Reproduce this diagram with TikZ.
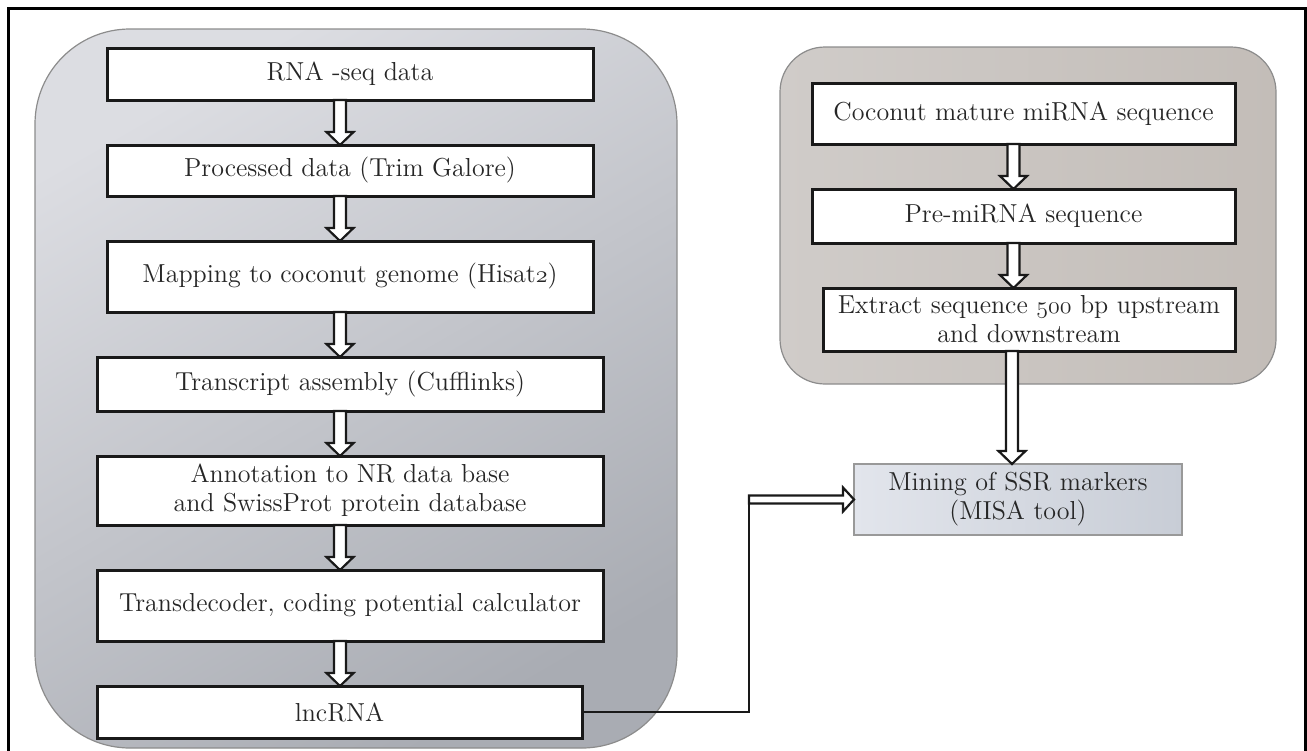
\documentclass[tikz,border=0pt]{standalone}
\usetikzlibrary{positioning, calc}
\definecolor{lefttop}{HTML}{DCDDE2}
\definecolor{leftbot}{HTML}{A9ACB3}
\definecolor{rightl}{HTML}{D0CCC9}
\definecolor{rightm}{HTML}{DFDCDA}
\definecolor{rightr}{HTML}{C3BDB8}
\definecolor{ssrl}{HTML}{E2E5EC}
\definecolor{ssrr}{HTML}{C8CDD6}
\newcommand{\osf}[1]{{\usefont{OML}{cmm}{m}{it}#1}}
\tikzstyle{stepbox} = [rectangle, draw=black!90, line width=1.5pt, outer sep=0pt, fill=white, align=center, inner sep=2pt, text=black!85, font=\fontsize{13}{14.5}\selectfont]
\tikzstyle{ssrbox} = [rectangle, draw=black!40, line width=0.7pt, outer sep=0pt, left color=ssrl, right color=ssrr, align=center, inner sep=2pt, text=black!85, font=\fontsize{13}{14.5}\selectfont]
\tikzstyle{panel} = [draw=black!45, line width=0.6pt]
\tikzstyle{blockarrow} = [draw=black!90, line width=1.1pt, fill=white, to path={let \p1=(\tikztostart), \p2=(\tikztotarget) in (\x1-3pt,\y1) -- (\x1-3pt,\y2+6.5pt) -- (\x1-6.75pt,\y2+6.5pt) -- (\x1,\y2) -- (\x1+6.75pt,\y2+6.5pt) -- (\x1+3pt,\y2+6.5pt) -- (\x1+3pt,\y1) -- cycle}]
\tikzstyle{hollowright} = [draw=black!90, line width=1.1pt, fill=white, to path={let \p1=(\tikztostart), \p2=(\tikztotarget) in (\x1,\y1+2pt) -- (\x2-5.5pt,\y1+2pt) -- (\x2-5.5pt,\y1+6pt) -- (\x2,\y1) -- (\x2-5.5pt,\y1-6pt) -- (\x2-5.5pt,\y1-2pt) -- (\x1,\y1-2pt) -- cycle}]
\tikzstyle{link} = [draw=black!90, line width=1.3pt]
\begin{document}
\begin{tikzpicture}[node distance=22.5pt]

    \useasboundingbox (0,0) rectangle (653.5pt,-375pt);
    \draw [line width=1.5pt] (4pt,-4pt) rectangle (652.5pt,-385pt);

    % panels
    \shade [panel, rounded corners=47.5pt, top color=lefttop, bottom color=leftbot, shading angle=30] (17.5pt,-14.5pt) rectangle (338.5pt,-374pt);
    \shade [panel, rounded corners=22.5pt, left color=rightl, middle color=rightm, right color=rightr] (390pt,-23.5pt) rectangle (638pt,-192pt);

    % lncRNA pipeline
    \node (rnaseq) [stepbox, minimum width=243pt, minimum height=26pt] at (175pt,-37pt) {RNA -seq data};
    \node (trimgal) [stepbox, minimum width=243pt, minimum height=25.5pt, below=of rnaseq] {Processed data (Trim Galore)};
    \node (hisat) [stepbox, minimum width=243pt, minimum height=35.5pt, below=of trimgal] {Mapping to coconut genome (Hisat\osf{2})};
    \node (cufflinks) [stepbox, minimum width=253pt, minimum height=27pt, below=of hisat] {Transcript assembly (Cufflinks)};
    \node (annot) [stepbox, minimum width=253pt, minimum height=34.5pt, below=of cufflinks] {Annotation to NR data base\\and SwissProt protein database};
    \node (transdec) [stepbox, minimum width=253pt, minimum height=35.5pt, below=of annot] {Transdecoder, coding potential calculator};
    \node (lncrna) [stepbox, minimum width=242.5pt, minimum height=26pt, below=of transdec.south west, anchor=north west] {lncRNA};

    % miRNA pipeline
    \node (coconut) [stepbox, minimum width=211.5pt, minimum height=30.5pt] at (511.75pt,-56.75pt) {Coconut mature miRNA sequence};
    \node (premirna) [stepbox, minimum width=211.5pt, minimum height=27pt, below=of coconut] {Pre-miRNA sequence};
    \node (extract) [stepbox, minimum width=206pt, minimum height=31.5pt, below=of premirna.south east, anchor=north east] {Extract sequence \osf{500} bp upstream\\and downstream};

    \node (mining) [ssrbox, minimum width=164pt, minimum height=35.5pt] at (509pt,-249.75pt) {Mining of SSR markers\\(MISA tool)};

    \draw [blockarrow] ([xshift=-5pt]rnaseq.south) to (trimgal.north);
    \draw [blockarrow] ([xshift=-5pt]trimgal.south) to (hisat.north);
    \draw [blockarrow] ([xshift=-5pt]hisat.south) to (cufflinks.north);
    \draw [blockarrow] ([xshift=-5pt]cufflinks.south) to (annot.north);
    \draw [blockarrow] ([xshift=-5pt]annot.south) to (transdec.north);
    \draw [blockarrow] ([xshift=-5pt]transdec.south) to (lncrna.north);

    \draw [blockarrow] ([xshift=-5pt]coconut.south) to (premirna.north);
    \draw [blockarrow] ([xshift=-5pt]premirna.south) to (extract.north);
    \draw [blockarrow] ([xshift=-8.5pt]extract.south) to (mining.north);

    \coordinate (elbow) at ($(lncrna.east)+(83.5pt,0)$);
    \draw [link] (lncrna.east) -- (elbow) -- ([yshift=2pt]elbow |- mining.west);
    \draw [hollowright] (elbow |- mining.west) to (mining.west);

\end{tikzpicture}
\end{document}
